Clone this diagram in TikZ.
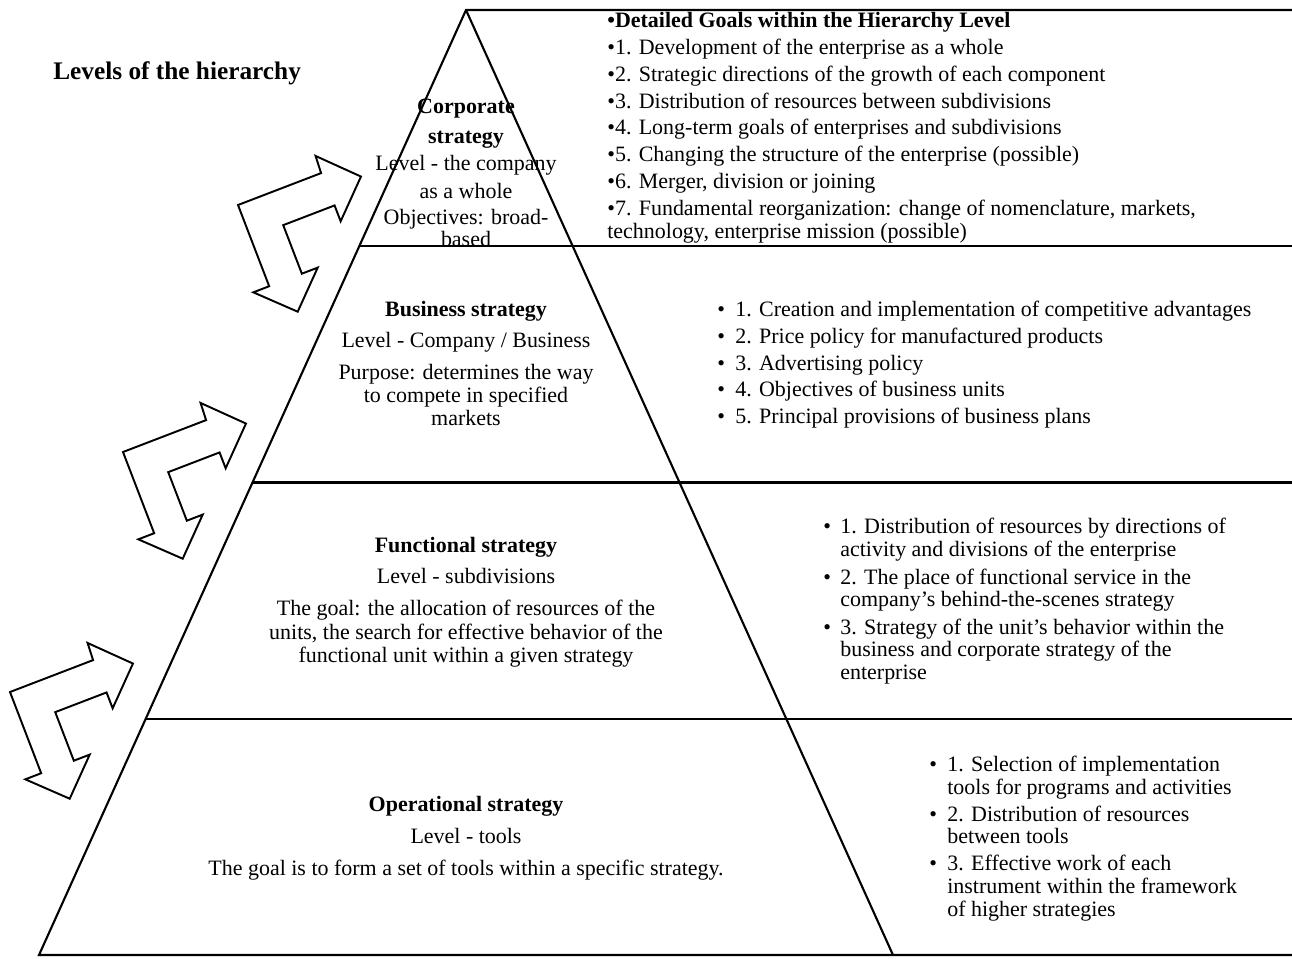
\documentclass[tikz,border=0pt]{standalone}
\usepackage{fontspec}
\setmainfont{Liberation Serif}
\usetikzlibrary{calc}

\begin{document}
\begin{tikzpicture}[
    x=0.02cm, y=-0.02cm,
    % Define styles for consistency
    frame/.style={line width=1.2pt, black},
    bent_arrow/.style={line width=1.1pt, black, fill=white, line join=miter},
    body/.style={font=\fontsize{12.5}{15}\selectfont, inner sep=0pt},
    level_text/.style={body, anchor=base},
    level_head/.style={level_text, font=\fontsize{12.5}{15}\selectfont\bfseries},
    goal_text/.style={body, anchor=base west},
    goal_dot/.style={body, anchor=base west}
]
\useasboundingbox (0,0) rectangle (1292,958);

    % ---------------------------------------------------------
    % 1. The pyramid and the level dividers
    % ---------------------------------------------------------
    \coordinate (apex) at (466,10);
    \coordinate (bl) at (39,955);
    \coordinate (br) at (893,955);
    \coordinate (edge) at (1292,0);

    \draw[frame] (edge |- apex) -- (apex) -- (bl) -- (br) -- (edge |- br);
    \draw[frame] (apex) -- (br);
    \foreach \f in {0.25, 0.5, 0.75} {
        \coordinate (cut) at ($(apex)!\f!(bl)$);
        \draw[frame] (cut) -- (edge |- cut);
    }

    % ---------------------------------------------------------
    % 2. The bent arrows between levels
    % ---------------------------------------------------------
    \foreach \ax/\ay in {238/205, 123/452, 10/692} {
        \begin{scope}[shift={(\ax,\ay)}, rotate=21]
            \draw[bent_arrow] (0,0) -- (89,0) -- (90,-18) -- (125,17.5)
                -- (90,52) -- (90,35) -- (35,35) -- (35,87) -- (52,87)
                -- (17.5,121) -- (-17,87) -- (0,87) -- cycle;
        \end{scope}
    }

    % ---------------------------------------------------------
    % 3. Texts inside the pyramid
    % ---------------------------------------------------------
    \node[body, anchor=base west, font=\fontsize{14.4}{17}\selectfont\bfseries] (title) at (53,79) {Levels of the hierarchy};

    % --- Corporate level ---
    \node[level_head] (corp-name1) at (466,113) {Corporate};
    \node[level_head] (corp-name2) at (466,143) {strategy};
    \node[level_text] (corp-level1) at (466,170) {Level - the company};
    \node[level_text] (corp-level2) at (466,198) {as a whole};
    \node[level_text] (corp-aim1) at (466,224) {Objectives: broad-};
    \node[level_text] (corp-aim2) at (466,246) {based};

    % --- Business level ---
    \node[level_head] (bus-name) at (466,316) {Business strategy};
    \node[level_text] (bus-level) at (466,347) {Level - Company / Business};
    \node[level_text] (bus-aim1) at (466,379) {Purpose: determines the way};
    \node[level_text] (bus-aim2) at (466,402) {to compete in specified};
    \node[level_text] (bus-aim3) at (466,425) {markets};

    % --- Functional level ---
    \node[level_head] (fun-name) at (466,552) {Functional strategy};
    \node[level_text] (fun-level) at (466,583) {Level - subdivisions};
    \node[level_text] (fun-aim1) at (466,615) {The goal: the allocation of resources of the};
    \node[level_text] (fun-aim2) at (466,639) {units, the search for effective behavior of the};
    \node[level_text] (fun-aim3) at (466,662) {functional unit within a given strategy};

    % --- Operational level ---
    \node[level_head] (op-name) at (466,811) {Operational strategy};
    \node[level_text] (op-level) at (466,843) {Level - tools};
    \node[level_text] (op-aim) at (466,875) {The goal is to form a set of tools within a specific strategy.};

    % ---------------------------------------------------------
    % 4. Detailed goals on the right
    % ---------------------------------------------------------
    \node[goal_text, font=\fontsize{12.5}{15}\selectfont\bfseries] (goals-head) at (607,27) {•Detailed Goals within the Hierarchy Level};
    \foreach \y/\txt [count=\i] in {
        54.5/{•1. Development of the enterprise as a whole},
        81.3/{•2. Strategic directions of the growth of each component},
        108.1/{•3. Distribution of resources between subdivisions},
        134.9/{•4. Long-term goals of enterprises and subdivisions},
        161.7/{•5. Changing the structure of the enterprise (possible)},
        188.5/{•6. Merger, division or joining},
        215.3/{•7. Fundamental reorganization: change of nomenclature, markets,},
        238.5/{technology, enterprise mission (possible)}} {
        \node[goal_text] (corp-goal-\i) at (607,\y) {\txt};
    }

    % Business goals
    \foreach \y/\txt [count=\i] in {
        316/{1. Creation and implementation of competitive advantages},
        343/{2. Price policy for manufactured products},
        370/{3. Advertising policy},
        396/{4. Objectives of business units},
        423/{5. Principal provisions of business plans}} {
        \node[goal_dot] (bus-dot-\i) at (717,\y) {•};
        \node[goal_text] (bus-goal-\i) at (735,\y) {\txt};
    }

    % Functional goals
    \foreach \y/\txt [count=\i] in {
        533/{1. Distribution of resources by directions of},
        556/{activity and divisions of the enterprise},
        584/{2. The place of functional service in the},
        606/{company's behind-the-scenes strategy},
        634/{3. Strategy of the unit's behavior within the},
        656/{business and corporate strategy of the},
        679/{enterprise}} {
        \node[goal_text] (fun-goal-\i) at (840,\y) {\txt};
    }
    \foreach \y [count=\i] in {533, 584, 634} {
        \node[goal_dot] (fun-dot-\i) at (823,\y) {•};
    }

    % Operational goals
    \foreach \y/\txt [count=\i] in {
        771/{1. Selection of implementation},
        794/{tools for programs and activities},
        821/{2. Distribution of resources},
        843/{between tools},
        870/{3. Effective work of each},
        893/{instrument within the framework},
        916/{of higher strategies}} {
        \node[goal_text] (op-goal-\i) at (947,\y) {\txt};
    }
    \foreach \y [count=\i] in {771, 821, 870} {
        \node[goal_dot] (op-dot-\i) at (929,\y) {•};
    }
\end{tikzpicture}
\end{document}
